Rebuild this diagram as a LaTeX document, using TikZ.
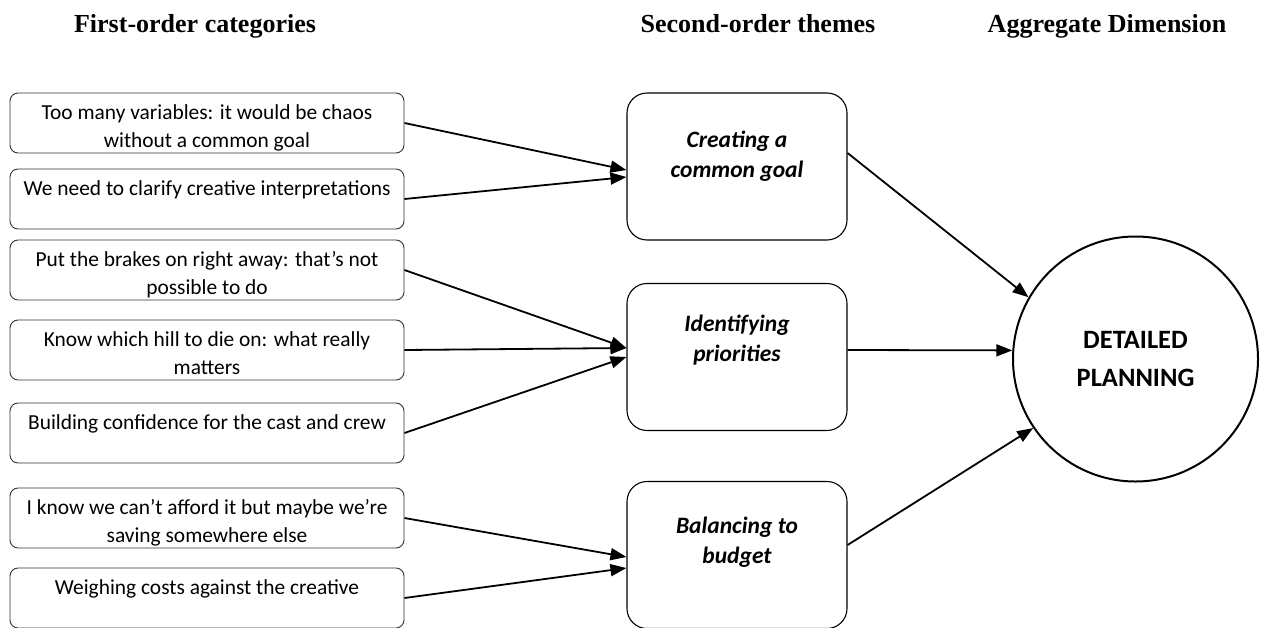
\documentclass[tikz,border=0pt]{standalone}
\usepackage{fontspec}
\setmainfont{Liberation Serif}
\newfontfamily\calib{Carlito}
\usetikzlibrary{arrows.meta}
\begin{document}
\begin{tikzpicture}[x=1pt,y=-1pt,
  catbox/.style={draw=black!80, line width=0.9pt, rounded corners=8pt,
    minimum width=394pt, minimum height=60pt, inner sep=0pt},
  cattext/.style={anchor=north, inner sep=0pt, align=center, yshift=-7.4pt,
    font=\calib\fontsize{21.4}{28}\selectfont},
  themebox/.style={draw, line width=1.1pt, rounded corners=20pt,
    minimum width=220pt, minimum height=147pt, inner sep=0pt},
  themetext/.style={anchor=north, inner sep=0pt, align=center,
    font=\calib\bfseries\itshape\fontsize{23.5}{30}\selectfont},
  header/.style={anchor=base, inner sep=0pt, font=\bfseries\fontsize{26}{28}\selectfont},
  link/.style={line width=1.8pt, -{Triangle[length=16pt,width=12pt]}},
]
\useasboundingbox (0,0) rectangle (1261,627);

% column headings
\node[header] (h1) at (195,32) {First-order categories};
\node[header] (h2) at (758,32) {Second-order themes};
\node[header] (h3) at (1107,32) {Aggregate Dimension};

% first-order categories
\node[catbox] (l1) at (207,123) {};
\node[cattext] (l1t) at (l1.north) {\strut Too many variables: it would be chaos\\\strut without a common goal};
\node[catbox] (l2) at (207,199) {};
\node[cattext] (l2t) at (l2.north) {\strut We need to clarify creative interpretations};
\node[catbox] (l3) at (207,270) {};
\node[cattext] (l3t) at (l3.north) {\strut Put the brakes on right away: that’s not\\\strut possible to do};
\node[catbox] (l4) at (207,350) {};
\node[cattext] (l4t) at (l4.north) {\strut Know which hill to die on: what really\\\strut matters};
\node[catbox] (l5) at (207,433) {};
\node[cattext] (l5t) at (l5.north) {\strut Building confidence for the cast and crew};
\node[catbox] (l6) at (207,518) {};
\node[cattext] (l6t) at (l6.north) {\strut I know we can’t afford it but maybe we’re\\\strut saving somewhere else};
\node[catbox] (l7) at (207,598) {};
\node[cattext] (l7t) at (l7.north) {\strut Weighing costs against the creative};

% second-order themes
\node[themebox] (m1) at (737,166.5) {};
\node[themetext, yshift=-33.6pt] (m1t) at (m1.north) {\strut Creating a\\\strut common goal};
\node[themebox] (m2) at (737,357) {};
\node[themetext, yshift=-27pt] (m2t) at (m2.north) {\strut Identifying\\\strut priorities};
\node[themebox] (m3) at (737,555) {};
\node[themetext, yshift=-31pt] (m3t) at (m3.north) {\strut Balancing to\\\strut budget};

% aggregate dimension
\node[circle, draw, line width=2pt, minimum size=245pt, inner sep=0pt] (c) at (1135.5,359) {};
\node[anchor=north, inner sep=0pt, align=center,
  font=\calib\bfseries\fontsize{26.5}{38}\selectfont] (ct) at (1135.5,321.4)
  {\strut DETAILED\\\strut PLANNING};

% links
\draw[link] (l1.east) -- ([yshift=-3.5pt]m1.west);
\draw[link] (l2.east) -- ([yshift=-10.5pt]m1.west);
\draw[link] (l3.east) -- ([yshift=9pt]m2.west);
\draw[link] (l4.east) -- ([yshift=9pt]m2.west);
\draw[link] (l5.east) -- (m2.west);
\draw[link] (l6.east) -- ([yshift=-2pt]m3.west);
\draw[link] (l7.east) -- ([yshift=-13pt]m3.west);

\draw[link] ([yshift=13.5pt]m1.east) -- (c.150);
\draw[link] ([yshift=7pt]m2.east) -- (c.176);
\draw[link] ([yshift=10pt]m3.east) -- (c.214);
\end{tikzpicture}
\end{document}
